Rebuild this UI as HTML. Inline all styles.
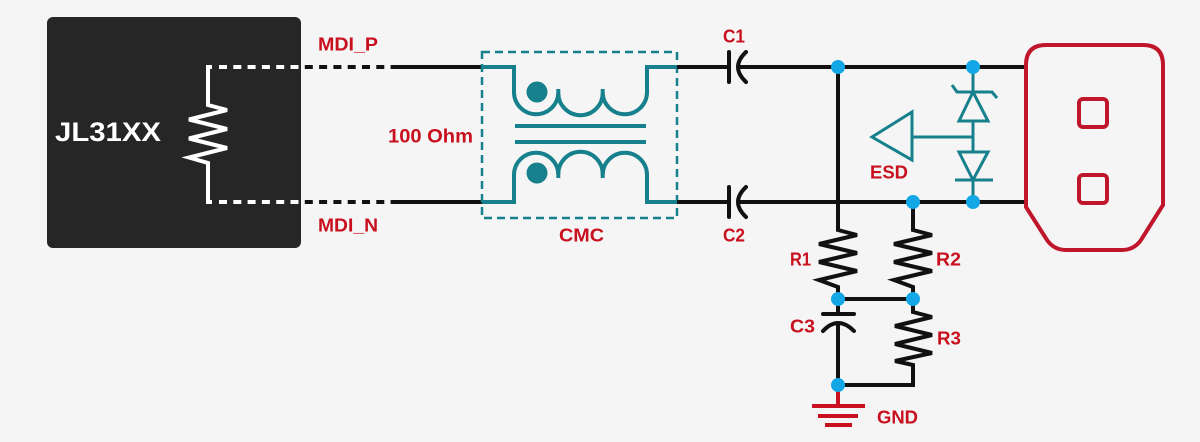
<!DOCTYPE html>
<html>
<head>
<meta charset="utf-8">
<style>
html,body{margin:0;padding:0;background:#f5f5f5;}
svg{display:block;}
text{font-family:"Liberation Sans",sans-serif;font-weight:bold;}
</style>
</head>
<body>
<svg width="1200" height="442" viewBox="0 0 1200 442" xmlns="http://www.w3.org/2000/svg">
<rect width="1200" height="442" fill="#f5f5f5"/>

<!-- Chip -->
<rect x="47" y="17" width="254" height="231" rx="6" fill="#262626"/>
<text x="55" y="141" font-size="27" fill="#ffffff" textLength="106" lengthAdjust="spacingAndGlyphs">JL31XX</text>

<!-- dashed lines (black outside) -->
<line x1="219" y1="67" x2="397" y2="67" stroke="#111" stroke-width="4" stroke-dasharray="8 6.3"/>
<line x1="219" y1="202" x2="397" y2="202" stroke="#111" stroke-width="4" stroke-dasharray="8 6.3"/>
<!-- white dashes inside chip -->
<line x1="219" y1="67" x2="299" y2="67" stroke="#fff" stroke-width="4" stroke-dasharray="8 6.3"/>
<line x1="219" y1="202" x2="299" y2="202" stroke="#fff" stroke-width="4" stroke-dasharray="8 6.3"/>
<!-- chip resistor -->
<polyline points="212,67 208,67 208,105 227,110 189,119.5 227,129 189,138.5 227,148 189,157.5 208,163 208,202 212,202" fill="none" stroke="#fff" stroke-width="4" stroke-linejoin="miter"/>

<!-- solid wires to CMC -->
<line x1="397" y1="67" x2="484" y2="67" stroke="#111" stroke-width="4"/>
<line x1="397" y1="202" x2="484" y2="202" stroke="#111" stroke-width="4"/>

<!-- CMC -->
<rect x="482" y="52" width="195" height="166" fill="none" stroke="#16808c" stroke-width="2.5" stroke-dasharray="8 5"/>
<g fill="none" stroke="#16808c" stroke-width="4">
<path d="M482 67 H514 V93 A22.17 22.17 0 0 0 558.3 93 A22.17 22.17 0 0 0 602.7 93 A22.17 22.17 0 0 0 647 93 V67 H677"/>
<line x1="558.3" y1="89" x2="558.3" y2="94"/>
<line x1="602.7" y1="89" x2="602.7" y2="94"/>
<path d="M482 202 H514 V174 A22.17 22.17 0 0 1 558.3 174 A22.17 22.17 0 0 1 602.7 174 A22.17 22.17 0 0 1 647 174 V202 H677"/>
<line x1="558.3" y1="173" x2="558.3" y2="178"/>
<line x1="602.7" y1="173" x2="602.7" y2="178"/>
<line x1="515" y1="126" x2="646" y2="126"/>
<line x1="515" y1="142" x2="646" y2="142"/>
</g>
<circle cx="537" cy="92" r="10.5" fill="#16808c"/>
<circle cx="537" cy="173" r="10.5" fill="#16808c"/>

<!-- wires to caps -->
<g stroke="#111" stroke-width="4" fill="none">
<line x1="677" y1="67" x2="729" y2="67"/>
<line x1="677" y1="202" x2="729" y2="202"/>
<line x1="738" y1="67" x2="1027" y2="67"/>
<line x1="738" y1="202" x2="1027" y2="202"/>
<!-- C1 -->
<line x1="729" y1="52" x2="729" y2="82" stroke-linecap="round"/>
<path d="M746 52 Q730 67 746 82" stroke-linecap="round"/>
<!-- C2 -->
<line x1="729" y1="187" x2="729" y2="217" stroke-linecap="round"/>
<path d="M746 187 Q730 202 746 217" stroke-linecap="round"/>

<!-- R1 -->
<polyline points="838,67 838,230 857,235 819,244 857,253 819,262 857,271 819,280 838,287 838,299"/>
<!-- R2 -->
<polyline points="913,202 913,230 932,235 894,244 932,253 894,262 932,271 894,280 913,287 913,299"/>
<line x1="838" y1="299" x2="913" y2="299"/>
<!-- R3 -->
<polyline points="913,299 913,312 932,317 895,326 932,335 895,344 932,353 895,361 913,365 913,385 838,385"/>
<!-- C3 -->
<line x1="838" y1="299" x2="838" y2="314"/>
<line x1="823" y1="314" x2="854" y2="314" stroke-linecap="round"/>
<path d="M823 331 Q838 315 854 331" stroke-linecap="round"/>
<line x1="838" y1="323" x2="838" y2="385"/>
</g>

<!-- GND -->
<g stroke="#c8101e" stroke-width="4">
<line x1="838" y1="390" x2="838" y2="406"/>
<line x1="812" y1="406" x2="865" y2="406"/>
<line x1="818" y1="416" x2="858" y2="416"/>
<line x1="825" y1="425" x2="852" y2="425"/>
</g>

<!-- ESD -->
<g fill="none" stroke="#16808c" stroke-width="3">
<line x1="973" y1="67" x2="973" y2="92"/>
<polyline points="952,85 957,92 992,92 997,98"/>
<polygon points="973,92 959,121 988,121"/>
<line x1="973" y1="121" x2="973" y2="152"/>
<line x1="912" y1="137" x2="973" y2="137"/>
<polygon points="872,137 912,112 912,160"/>
<polygon points="959,152 988,152 973,180"/>
<line x1="955" y1="180" x2="993" y2="180"/>
<line x1="973" y1="180" x2="973" y2="202"/>
</g>

<!-- Node dots -->
<g fill="#14a7e8">
<circle cx="838" cy="67" r="7"/>
<circle cx="973" cy="67" r="7"/>
<circle cx="913" cy="202" r="7"/>
<circle cx="973" cy="202" r="7"/>
<circle cx="838" cy="299" r="7"/>
<circle cx="913" cy="299" r="7"/>
<circle cx="838" cy="385" r="7"/>
</g>

<!-- Connector -->
<g fill="none" stroke="#c0162c" stroke-width="4">
<path d="M1046 45 H1143 Q1163 45 1163 65 V205 L1141 240 Q1134 250 1122 250 H1066 Q1054 250 1047 240 L1026 207 V65 Q1026 45 1046 45 Z"/>
<rect x="1079" y="99" width="28" height="28" rx="4"/>
<rect x="1079" y="175" width="28" height="28" rx="4"/>
</g>

<!-- Labels -->
<g fill="#c8101e">
<text x="318" y="50.5" font-size="18" textLength="60" lengthAdjust="spacingAndGlyphs">MDI_P</text>
<text x="318" y="231.5" font-size="18" textLength="60" lengthAdjust="spacingAndGlyphs">MDI_N</text>
<text x="388" y="142.5" font-size="19" textLength="85" lengthAdjust="spacingAndGlyphs">100 Ohm</text>
<text x="559" y="241.5" font-size="18" textLength="45" lengthAdjust="spacingAndGlyphs">CMC</text>
<text x="723" y="42.5" font-size="18" textLength="22" lengthAdjust="spacingAndGlyphs">C1</text>
<text x="723" y="241.5" font-size="18" textLength="22" lengthAdjust="spacingAndGlyphs">C2</text>
<text x="870" y="178.5" font-size="18" textLength="38" lengthAdjust="spacingAndGlyphs">ESD</text>
<text x="790" y="265.5" font-size="18" textLength="21" lengthAdjust="spacingAndGlyphs">R1</text>
<text x="936" y="265.5" font-size="18" textLength="25" lengthAdjust="spacingAndGlyphs">R2</text>
<text x="790" y="332.5" font-size="18" textLength="25" lengthAdjust="spacingAndGlyphs">C3</text>
<text x="937" y="344.5" font-size="18" textLength="24" lengthAdjust="spacingAndGlyphs">R3</text>
<text x="877" y="423.5" font-size="18" textLength="41" lengthAdjust="spacingAndGlyphs">GND</text>
</g>
</svg>
</body>
</html>
